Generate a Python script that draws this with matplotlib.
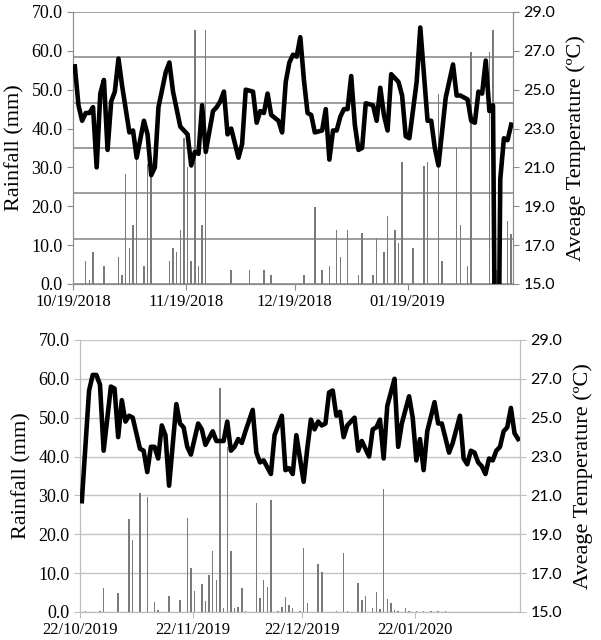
import numpy as np
import pandas as pd
import matplotlib
matplotlib.use("Agg")
import matplotlib.pyplot as plt
import matplotlib.dates as mdates
from matplotlib.ticker import FormatStrFormatter

# ---- panel 1: 2018/2019 season (day 0 = 19 Oct 2018) ----
temp1_days = [0, 1, 2, 3, 4, 5, 6, 7, 8, 9, 10, 11, 12, 13, 15, 16, 17, 19, 20, 21,
              22, 23, 25, 26, 27, 29, 30, 31, 32, 33, 34, 35, 36, 38, 39, 40, 41, 42, 43, 45,
              46, 47, 49, 50, 51, 52, 53, 54, 56, 57, 58, 59, 60, 61, 62, 63, 64, 65, 66, 68,
              69, 70, 71, 72, 73, 74, 75, 76, 77, 78, 79, 80, 82, 83, 84, 85, 86, 87, 89, 90,
              91, 92, 94, 95, 97, 98, 99, 100, 102, 104, 105, 106, 108, 109, 110, 111, 112, 113, 114, 115,
              116, 117, 118, 119, 120]
temp1 = [26.2, 24.2, 23.4, 23.8, 23.8, 24.1, 21.0, 24.8, 25.5, 21.9, 24.4, 24.9, 26.6, 25.2, 22.8, 22.9, 21.5, 23.4, 22.7, 20.6,
         21.0, 24.1, 25.9, 26.4, 24.9, 23.1, 22.9, 22.7, 21.1, 21.8, 21.7, 24.2, 21.8, 23.9, 24.1, 24.4, 24.9, 22.7, 23.0, 21.5,
         22.2, 25.0, 24.9, 23.3, 23.9, 23.8, 24.8, 23.7, 23.4, 22.8, 25.4, 26.4, 26.8, 26.7, 27.7, 25.5, 23.8, 23.7, 22.8, 22.9,
         24.0, 21.4, 22.9, 22.9, 23.6, 24.0, 24.0, 25.7, 23.2, 21.9, 22.0, 24.3, 24.2, 23.4, 25.1, 23.7, 22.9, 25.8, 25.4, 24.7,
         22.6, 22.5, 25.4, 28.2, 23.4, 23.4, 22.0, 21.1, 24.6, 26.3, 24.7, 24.7, 24.5, 23.4, 23.3, 24.9, 24.8, 26.5, 23.9, 24.2,
         0.0, 20.4, 22.5, 22.4, 23.2]

rain1_days = [3, 4, 5, 8, 12, 13, 14, 15, 16, 17, 19, 20, 21, 26, 27, 28, 29, 30, 31, 32,
              33, 34, 35, 36, 43, 48, 52, 54, 63, 66, 68, 70, 72, 73, 75, 78, 79, 82, 83, 85,
              86, 88, 89, 90, 93, 96, 97, 100, 101, 105, 106, 108, 109, 114, 115, 116, 119, 120]
rain1 = [5.9, 1.0, 8.3, 4.7, 7.0, 2.3, 28.3, 9.3, 15.2, 32.5, 4.6, 31.0, 30.0, 5.9, 9.3, 8.3, 13.9, 37.5, 30.1, 5.9,
         65.4, 4.7, 15.2, 65.4, 3.6, 3.6, 3.6, 2.3, 2.3, 19.9, 3.6, 4.6, 13.9, 7.0, 13.9, 2.3, 13.0, 2.3, 11.8, 8.3,
         17.6, 13.9, 10.6, 31.5, 9.3, 30.4, 31.5, 49.0, 5.9, 34.9, 15.3, 4.7, 59.8, 59.8, 65.4, 3.6, 16.3, 12.9]

# ---- panel 2: 2019/2020 season (day 0 = 22 Oct 2019) ----
temp2_days = [0, 2, 3, 4, 5, 6, 8, 9, 10, 11, 12, 13, 14, 16, 17, 18, 19, 20, 21, 22,
              23, 24, 25, 26, 27, 28, 29, 30, 32, 33, 34, 36, 37, 39, 40, 41, 42, 43, 44, 45,
              47, 48, 49, 50, 52, 53, 55, 56, 57, 58, 59, 61, 62, 63, 64, 65, 66, 67, 68, 69,
              70, 71, 72, 73, 75, 76, 77, 78, 79, 80, 81, 82, 83, 84, 85, 86, 87, 88, 90, 91,
              92, 93, 94, 95, 97, 98, 99, 101, 102, 104, 105, 106, 107, 108, 109, 110, 111, 112, 113, 114,
              115, 116, 117, 118, 119, 120]
temp2 = [20.7, 26.4, 27.2, 27.2, 26.7, 23.3, 26.6, 26.5, 24.0, 25.9, 24.8, 25.1, 25.0, 23.4, 23.3, 22.2, 23.5, 23.5, 22.9, 24.6,
         24.1, 21.5, 23.6, 25.7, 24.7, 24.5, 23.5, 23.1, 24.7, 24.4, 23.6, 24.3, 23.8, 23.8, 24.8, 23.3, 23.5, 23.9, 23.7, 24.3,
         25.4, 23.2, 22.7, 22.8, 22.1, 24.1, 25.1, 22.3, 22.4, 22.1, 24.1, 21.7, 23.4, 24.9, 24.4, 24.8, 24.6, 24.7, 26.3, 26.4,
         25.1, 25.3, 24.0, 24.6, 25.0, 23.3, 23.8, 23.4, 23.0, 24.4, 24.5, 24.9, 22.9, 25.6, 26.3, 27.0, 23.5, 24.7, 26.1, 25.0,
         22.8, 23.9, 22.3, 24.3, 25.8, 24.7, 24.7, 23.2, 23.7, 25.1, 22.9, 22.6, 23.3, 23.2, 22.7, 22.5, 22.1, 22.9, 22.8, 23.3,
         23.5, 24.3, 24.5, 25.5, 24.2, 23.9]

rain2_days = [1, 5, 6, 10, 13, 14, 16, 18, 20, 21, 24, 27, 29, 30, 31, 33, 34, 35, 36, 37,
              38, 39, 40, 41, 42, 43, 44, 45, 48, 49, 50, 51, 52, 54, 55, 56, 57, 58, 60, 61,
              62, 65, 66, 70, 72, 73, 76, 77, 78, 80, 81, 82, 83, 84, 85, 86, 87, 89, 90, 92,
              94, 96, 98, 100]
rain2 = [0.2, 0.2, 6.1, 5.0, 23.9, 18.4, 30.5, 29.6, 2.6, 0.6, 4.1, 3.1, 24.1, 11.2, 5.5, 7.3, 2.7, 9.5, 15.7, 8.2,
         57.6, 1.0, 42.4, 15.7, 1.1, 1.3, 6.1, 0.2, 28.1, 3.6, 8.2, 6.3, 28.7, 0.3, 1.4, 3.8, 1.9, 0.9, 0.3, 16.4,
         2.4, 12.3, 10.4, 0.2, 15.1, 0.3, 7.4, 3.1, 4.2, 0.9, 5.2, 0.8, 31.6, 3.3, 2.2, 0.5, 0.3, 1.1, 0.3, 0.2,
         0.2, 0.2, 0.2, 0.2]

panels = [
    dict(start="2018-10-19", ticks=["2018-10-19", "2018-11-19", "2018-12-19", "2019-01-19"],
         fmt="%m/%d/%Y", tdays=temp1_days, temp=temp1, rdays=rain1_days, rain=rain1,
         rect=[0.1215, 0.5563, 0.7321, 0.425], grid="#8c8c8c", spine="#8c8c8c", odd_grid=True),
    dict(start="2019-10-22", ticks=["2019-10-22", "2019-11-22", "2019-12-22", "2020-01-22"],
         fmt="%d/%m/%Y", tdays=temp2_days, temp=temp2, rdays=rain2_days, rain=rain2,
         rect=[0.1331, 0.0438, 0.7321, 0.425], grid="#c4c4c4", spine="#bdbdbd", odd_grid=False),
]

serif = ["Liberation Serif", "DejaVu Serif"]
sans = ["Lato", "DejaVu Sans"]

fig = plt.figure(figsize=(6.01, 6.40), dpi=100)

for p in panels:
    start = pd.Timestamp(p["start"])
    t_x = start + pd.to_timedelta(np.array(p["tdays"]) + 0.5, unit="D")
    r_x = start + pd.to_timedelta(np.array(p["rdays"]) + 0.5, unit="D")

    ax = fig.add_axes(p["rect"])
    ax.bar(r_x, p["rain"], width=0.4, color="#7a7a7a", zorder=2)
    ax.set_ylim(0, 70)
    ax.set_yticks(np.arange(0, 71, 10))
    ax.yaxis.set_major_formatter(FormatStrFormatter("%.1f"))
    ax.set_xlim(start, start + pd.Timedelta(days=121))
    ax.set_xticks(pd.to_datetime(p["ticks"]))
    ax.xaxis.set_major_formatter(mdates.DateFormatter(p["fmt"]))

    # horizontal gridlines (top chart's grid does not follow its tick labels)
    if p["odd_grid"]:
        levels = np.linspace(0, 70, 7)
    else:
        levels = np.arange(0, 71, 10)
    for lv in levels:
        ax.axhline(lv, color=p["grid"], lw=1.2 if p["odd_grid"] else 1.0, zorder=1)

    for s in ax.spines.values():
        s.set_color(p["spine"])
    ax.spines["top"].set_visible(False)
    ax.tick_params(axis="both", colors=p["spine"], length=4, labelcolor="black")
    for lab in ax.get_yticklabels():
        lab.set_fontfamily(serif)
        lab.set_fontsize(13)
    for lab in ax.get_xticklabels():
        lab.set_fontfamily(serif)
        lab.set_fontsize(12)
    ax.set_ylabel("Rainfall (mm)", fontfamily=serif, fontsize=16, labelpad=5)

    ax2 = ax.twinx()
    ax2.plot(t_x, p["temp"], color="black", lw=3.3, solid_joinstyle="round", zorder=3)
    ax2.set_ylim(15, 29)
    ax2.set_yticks(np.arange(15, 30, 2))
    ax2.yaxis.set_major_formatter(FormatStrFormatter("%.1f"))
    for s in ax2.spines.values():
        s.set_color(p["spine"])
    ax2.spines["top"].set_visible(False)
    ax2.tick_params(axis="y", colors=p["spine"], length=4, labelcolor="black")
    for lab in ax2.get_yticklabels():
        lab.set_fontfamily(sans)
        lab.set_fontsize(11.5)
    ax2.set_ylabel("Aveage Temperature (ºC)", fontfamily=serif, fontsize=16, labelpad=8)

fig.savefig("out.png", dpi=100)
